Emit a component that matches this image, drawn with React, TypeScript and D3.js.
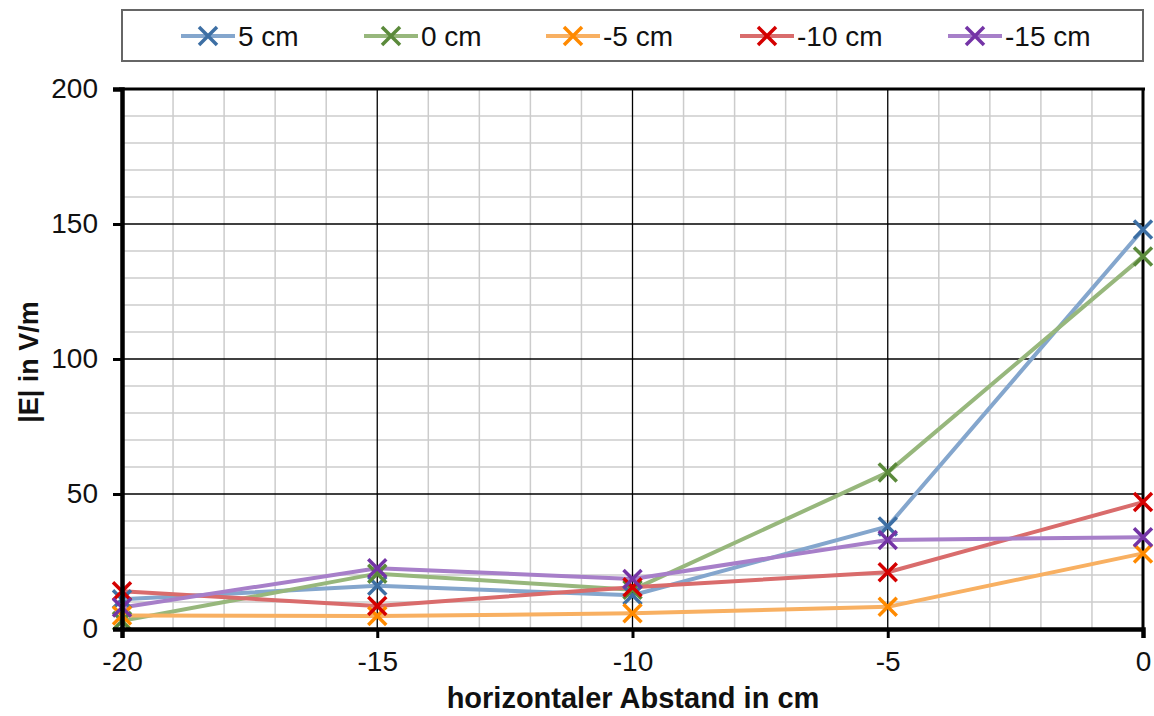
import React, { useEffect, useRef } from "react";
import * as d3 from "d3";

const xValues = [-20, -15, -10, -5, 0];
const seriesNames = ["5 cm", "0 cm", "-5 cm", "-10 cm", "-15 cm"];
const s5 = [11, 16, 12.5, 38, 148];
const s0 = [3, 20.5, 14.5, 58, 138];
const sm5 = [5, 4.8, 5.8, 8.2, 28];
const sm10 = [14, 8.5, 15.5, 21, 47];
const sm15 = [8, 22.5, 18.5, 33, 34];
const lineColors = ["#84a6cd", "#97b77c", "#f8b062", "#d96c6c", "#a77fc9"];
const markColors = ["#3d6fa4", "#5b8a3b", "#ff8a00", "#d40000", "#7434a6"];
const xTicks = [-20, -15, -10, -5, 0];
const yTicks = [0, 50, 100, 150, 200];

const W = 1154;
const H = 716;

function App() {
  const ref = useRef<SVGSVGElement>(null);

  useEffect(() => {
    const svg = d3.select(ref.current);
    svg.selectAll("*").remove();
    const font = "'Liberation Sans', Arial, sans-serif";
    const left = 122, right = 1143, top = 89, bottom = 629;

    const x = d3.scaleLinear().domain([-20, 0]).range([left, right]);
    const y = d3.scaleLinear().domain([0, 200]).range([bottom, top]);

    // minor grid
    const g = svg.append("g");
    g.selectAll(".vx")
      .data(d3.range(-20, 1, 1).filter((v) => v % 5 !== 0))
      .enter().append("line")
      .attr("x1", (d) => x(d)).attr("x2", (d) => x(d))
      .attr("y1", top).attr("y2", bottom)
      .attr("stroke", "#cccccc").attr("stroke-width", 1.5);
    g.selectAll(".hy")
      .data(d3.range(0, 201, 10).filter((v) => v % 50 !== 0))
      .enter().append("line")
      .attr("x1", left).attr("x2", right)
      .attr("y1", (d) => y(d)).attr("y2", (d) => y(d))
      .attr("stroke", "#cccccc").attr("stroke-width", 1.5);
    // major grid
    g.selectAll(".mx")
      .data(xTicks.slice(1, -1))
      .enter().append("line")
      .attr("x1", (d) => x(d)).attr("x2", (d) => x(d))
      .attr("y1", top).attr("y2", bottom)
      .attr("stroke", "#000").attr("stroke-width", 1.3);
    g.selectAll(".my")
      .data(yTicks.slice(1, -1))
      .enter().append("line")
      .attr("x1", left).attr("x2", right)
      .attr("y1", (d) => y(d)).attr("y2", (d) => y(d))
      .attr("stroke", "#000").attr("stroke-width", 1.3);

    // frame
    svg.append("line").attr("x1", left - 3).attr("x2", right + 2).attr("y1", top).attr("y2", top)
      .attr("stroke", "#000").attr("stroke-width", 3);
    svg.append("line").attr("x1", right).attr("x2", right).attr("y1", top).attr("y2", bottom)
      .attr("stroke", "#000").attr("stroke-width", 3);

    // series
    const all = [s5, s0, sm5, sm10, sm15];
    const line = d3.line<number>().x((d, i) => x(xValues[i])).y((d) => y(d));
    all.forEach((vals, k) => {
      svg.append("path")
        .attr("d", line(vals))
        .attr("fill", "none")
        .attr("stroke", lineColors[k])
        .attr("stroke-width", 4)
        .attr("stroke-linejoin", "round");
    });
    const m = 9;
    all.forEach((vals, k) => {
      vals.forEach((v, i) => {
        const cx = x(xValues[i]), cy = y(v);
        svg.append("path")
          .attr("d", `M${cx - m},${cy - m}L${cx + m},${cy + m}M${cx - m},${cy + m}L${cx + m},${cy - m}`)
          .attr("stroke", markColors[k]).attr("stroke-width", 3.5).attr("fill", "none");
      });
    });

    // axes
    const ya = svg.append("g").attr("transform", `translate(${left},0)`)
      .call(d3.axisLeft(y).tickValues(yTicks).tickSize(9).tickPadding(15).tickFormat((d) => String(d)));
    ya.select(".domain").attr("stroke-width", 4.5);
    ya.selectAll(".tick line").attr("stroke-width", 3);
    ya.selectAll("text").attr("font-family", font).attr("font-size", 28).attr("fill", "#111");

    const xa = svg.append("g").attr("transform", `translate(0,${bottom})`)
      .call(d3.axisBottom(x).tickValues(xTicks).tickSize(9).tickPadding(13).tickFormat((d) => String(d)));
    xa.select(".domain").attr("stroke-width", 4.5);
    xa.selectAll(".tick line").attr("stroke-width", 3);
    xa.selectAll("text").attr("font-family", font).attr("font-size", 28).attr("fill", "#111");

    // axis titles
    svg.append("text")
      .attr("x", 633).attr("y", 708)
      .attr("text-anchor", "middle").attr("font-family", font)
      .attr("font-size", 29).attr("font-weight", "bold").attr("fill", "#111")
      .text("horizontaler Abstand in cm");
    svg.append("text")
      .attr("transform", `translate(38,${(top + bottom) / 2 + 3}) rotate(-90)`)
      .attr("text-anchor", "middle").attr("font-family", font)
      .attr("font-size", 27).attr("font-weight", "bold").attr("fill", "#111")
      .text("|E| in V/m");

    // legend
    svg.append("rect").attr("x", 122).attr("y", 10).attr("width", 1021).attr("height", 51)
      .attr("fill", "#fff").attr("stroke", "#666").attr("stroke-width", 2);
    const legX = [181, 364, 546, 740, 948];
    seriesNames.forEach((name, k) => {
      const lx = legX[k], ly = 36;
      svg.append("line").attr("x1", lx).attr("x2", lx + 54).attr("y1", ly).attr("y2", ly)
        .attr("stroke", lineColors[k]).attr("stroke-width", 4);
      const cx = lx + 27;
      svg.append("path")
        .attr("d", `M${cx - m},${ly - m}L${cx + m},${ly + m}M${cx - m},${ly + m}L${cx + m},${ly - m}`)
        .attr("stroke", markColors[k]).attr("stroke-width", 3.5);
      svg.append("text").attr("x", lx + 57).attr("y", ly + 10)
        .attr("font-family", font).attr("font-size", 28).attr("fill", "#111")
        .text(name);
    });
  }, []);

  return (
    <svg ref={ref} width={W} height={H} style={{ position: "absolute", left: 0, top: 0, background: "#fff" }} />
  );
}

export default App;
